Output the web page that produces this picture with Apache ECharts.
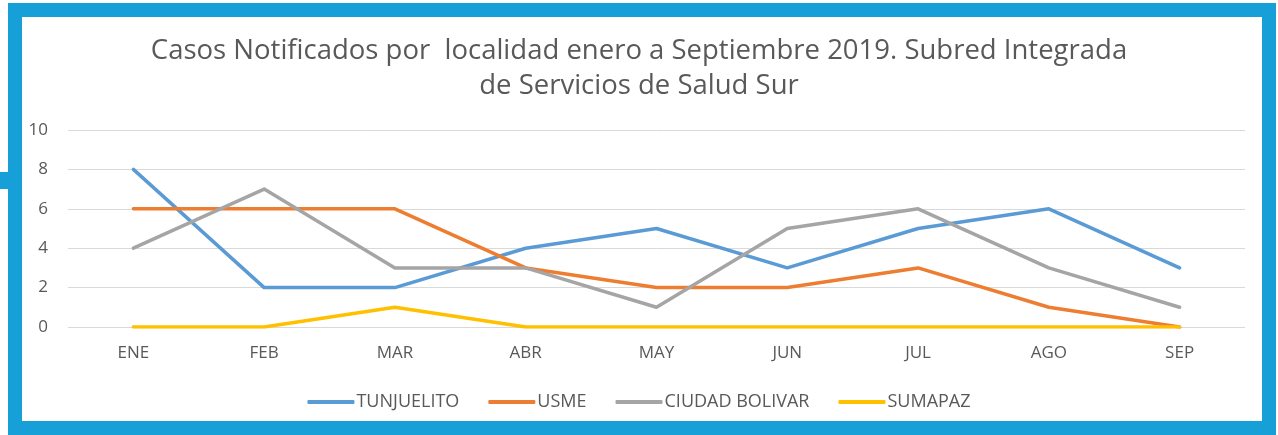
<!DOCTYPE html>
<html>
<head>
<meta charset="utf-8">
<script src="https://cdn.jsdelivr.net/npm/echarts@6/dist/echarts.min.js"></script>
<style>
    html, body { margin: 0; padding: 0; background: #fff; }
    .frame {
        position: absolute; left: 8px; top: 3px;
        width: 1240px; height: 404px;
        border: 14px solid #179fd7;
    }
    .tab {
        position: absolute; left: 0; top: 172px;
        width: 8px; height: 17px; background: #179fd7;
    }
    #chart { position: absolute; left: 0; top: 0; width: 1278px; height: 435px; }
</style>
</head>
<body>
<div class="frame"></div>
<div class="tab"></div>
<div id="chart"></div>
<script>
// datos
var meses = ['ENE', 'FEB', 'MAR', 'ABR', 'MAY', 'JUN', 'JUL', 'AGO', 'SEP']
var tunjuelito = [8, 2, 2, 4, 5, 3, 5, 6, 3]
var usme = [6, 6, 6, 3, 2, 2, 3, 1, 0]
var ciudadBolivar = [4, 7, 3, 3, 1, 5, 6, 3, 1]
var sumapaz = [0, 0, 1, 0, 0, 0, 0, 0, 0]

var fuente = '"Open Sans", "Liberation Sans", sans-serif'

function linea(nombre, datos, color) {
    return {
        name: nombre,
        type: 'line',
        data: datos,
        symbol: 'none',
        lineStyle: { color: color, width: 3.5, cap: 'round', join: 'round' },
        itemStyle: { color: color }
    }
}

var chart = echarts.init(document.getElementById('chart'))
chart.setOption({
    animation: false,
    backgroundColor: 'transparent',
    color: ['#5b9bd5', '#ed7d31', '#a5a5a5', '#ffc000'],
    title: {
        text: 'Casos Notificados por  localidad enero a Septiembre 2019. Subred Integrada\nde Servicios de Salud Sur',
        left: 'center',
        top: 29,
        textStyle: {
            fontFamily: fuente,
            fontSize: 27.5,
            fontWeight: 'normal',
            color: '#595959',
            lineHeight: 35
        }
    },
    legend: {
        top: 388,
        left: 'center',
        icon: 'roundRect',
        itemWidth: 47,
        itemHeight: 4,
        itemGap: 29,
        textStyle: { fontFamily: fuente, fontSize: 18, color: '#595959', padding: [0, 0, 0, -3] }
    },
    grid: { left: 68, right: 33, top: 130, bottom: 108 },
    xAxis: {
        type: 'category',
        data: meses,
        boundaryGap: true,
        axisLine: { show: false },
        axisTick: { show: false },
        axisLabel: { fontFamily: fuente, fontSize: 17, color: '#595959', margin: 18 }
    },
    yAxis: {
        type: 'value',
        min: 0,
        max: 10,
        interval: 2,
        axisLine: { show: false },
        axisTick: { show: false },
        splitLine: { lineStyle: { color: '#d9d9d9', width: 1 } },
        axisLabel: { fontFamily: fuente, fontSize: 17, color: '#595959', margin: 20 }
    },
    series: [
        linea('TUNJUELITO', tunjuelito, '#5b9bd5'),
        linea('USME', usme, '#ed7d31'),
        linea('CIUDAD BOLIVAR', ciudadBolivar, '#a5a5a5'),
        linea('SUMAPAZ', sumapaz, '#ffc000')
    ]
})
</script>
</body>
</html>
